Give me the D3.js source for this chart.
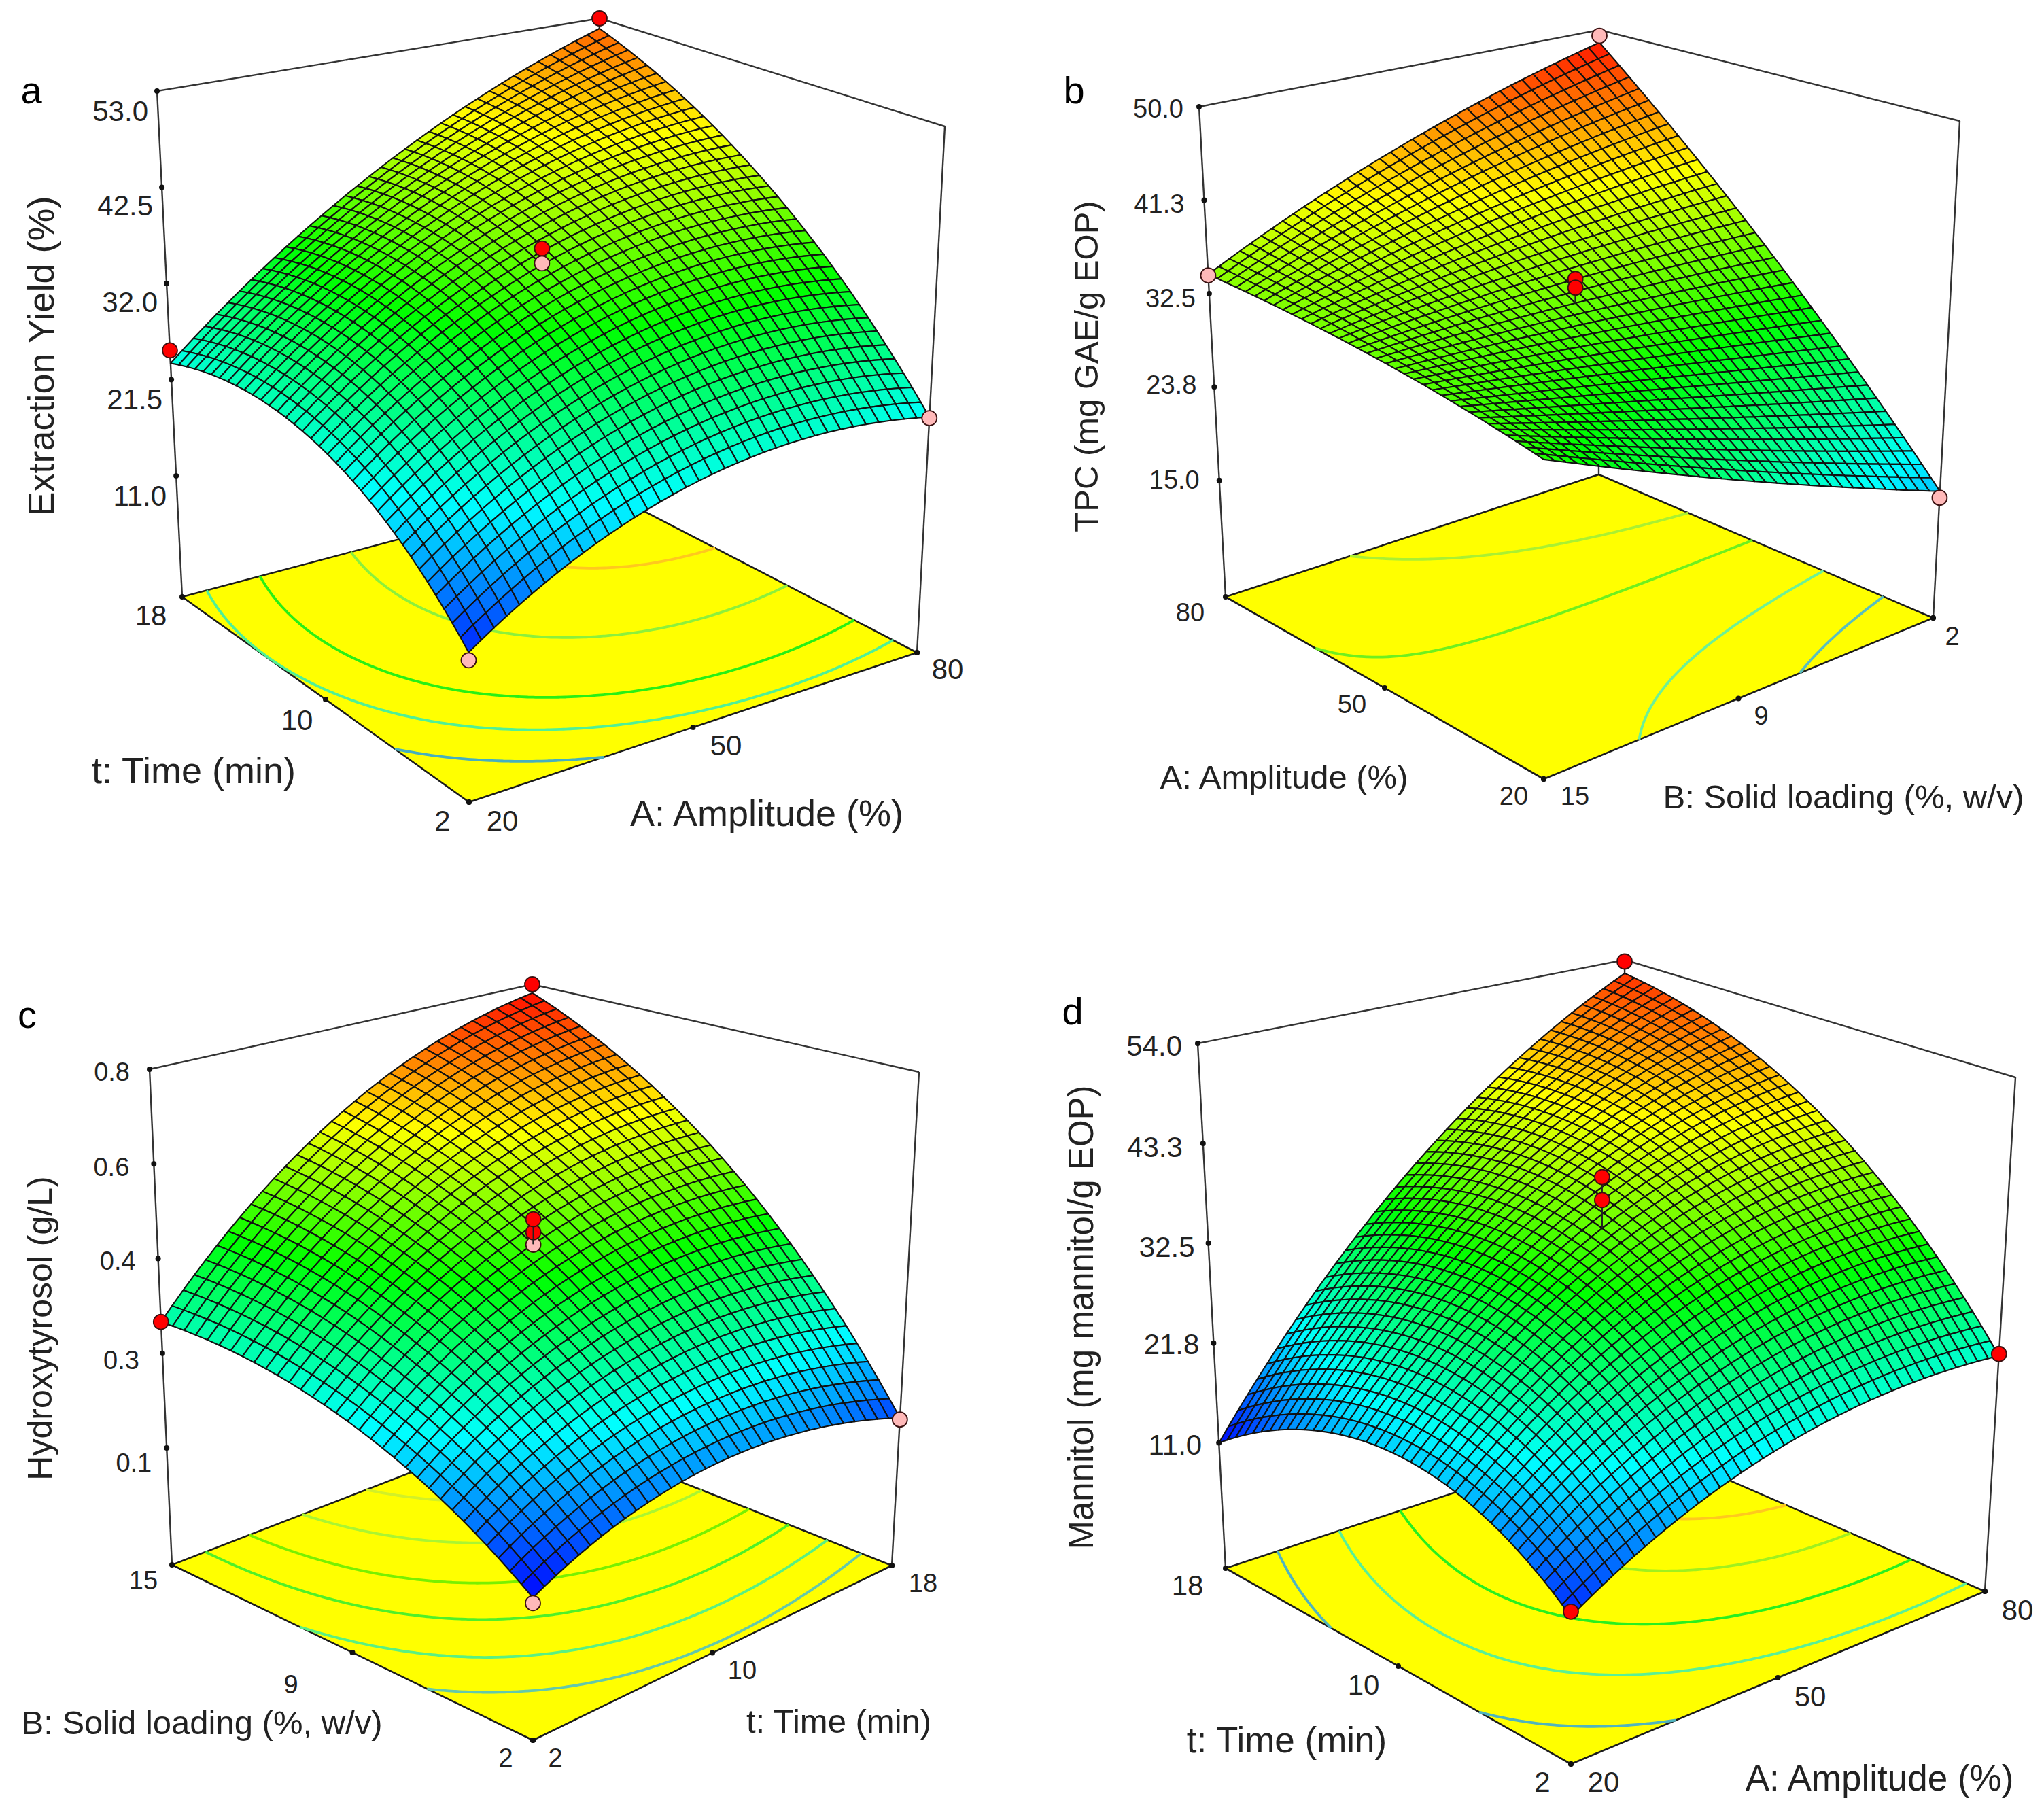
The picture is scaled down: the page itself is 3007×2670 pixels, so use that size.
<!DOCTYPE html>
<html><head><meta charset="utf-8">
<script src="https://cdn.jsdelivr.net/npm/d3@7"></script>
<style>html,body{margin:0;background:#fff}svg{display:block}text{font-family:"Liberation Sans",Arial,sans-serif;fill:#222}</style>
</head><body><svg id="c" width="3007" height="2670"></svg>
<script>
// ---------- values (rows: second factor, columns: first factor)
const yieldSurface=[[13,19.5,23.25,24.25,22.5],[20.3,27.57,31.98,33.55,32.27],[24.45,32.42,37.73,40.39,40.4],[25.46,34.04,40.48,44.78,46.92],[23.3,32.46,40.25,46.71,51.8]];
const tpcSurface=[[30.1,26.53,22.95,19.38,15.8],[31.6,29.88,28.05,26.09,24.03],[32.8,33.0,32.97,32.72,32.25],[33.7,35.91,37.77,39.29,40.48],[34.3,38.58,42.4,45.78,48.7]];
const hydroxySurface=[[.121,.188,.217,.207,.158],[.221,.316,.372,.391,.370],[.289,.411,.494,.539,.545],[.327,.474,.581,.652,.682],[.333,.503,.635,.728,.782]];
const mannitolSurface=[[12.3,18.12,21.9,23.67,23.4],[17.98,25.92,31.36,34.35,34.85],[19.65,29.55,36.83,41.48,43.5],[17.33,29.05,38.29,45.06,49.35],[11,24.39,35.75,45.09,52.4]];

const yieldLevels=[20.5,25.6,30.3,37.5,44], tpcLevels=[20.7,26.6,33.6,39.9], hydroxyLevels=[.235,.315,.40,.48,.565,.65], mannitolLevels=[18.2,26,33,39.5,45];

const yieldTicks=[53,42.5,32,21.5,11], yieldTickLabels=["53.0","42.5","32.0","21.5","11.0"];
const tpcTicks=[50,41.25,32.5,23.75,15], tpcTickLabels=["50.0","41.3","32.5","23.8","15.0"];
const hydroxyTicks=[.8,.625,.45,.275,.1], hydroxyTickLabels=["0.8","0.6","0.4","0.3","0.1"];
const mannitolTicks=[54,43.25,32.5,21.75,11], mannitolTickLabels=["54.0","43.3","32.5","21.8","11.0"];

const amplitudeTicks=[20,50,80], timeTicks=[2,10,18], solidTicks=[2,8.5,15];
const amplitudeLabels=["20","50","80"], timeLabels=["2","10","18"], solidLabels=["2","9","15"];

// design points: first factor, second factor, response, 1 = above surface (red) / 0 = below (pink)
const yieldPoints=[[20,18,24.7,1],[80,18,53,1],[80,2,22.4,0],[20,2,12.2,0],[50,10,39.5,1],[50,10,37.9,0]];
const tpcPoints=[[15,80,34.2,0],[2,80,49.4,0],[2,20,15.2,0],[8.5,50,35.2,1],[8.5,50,34.4,1]];
const hydroxyPoints=[[2,15,.333,1],[18,15,.8,1],[18,2,.155,0],[2,2,.112,0],[10,8.5,.493,0],[10,8.5,.516,1],[10,8.5,.54,1]];
const mannitolPoints=[[20,2,12.8,1],[80,2,23.6,1],[80,18,53.8,1],[50,10,42.4,1],[50,10,39.9,1]];

// ---------- layout
const panels=[
{letter:"a",lp:[46,132],lfs:56,surface:yieldSurface,levels:yieldLevels,zT:yieldTicks,zL:yieldTickLabels,pts:yieldPoints,
 lc:["#46afbe","#50f096","#28f014","#8cf03c","#ffc81e"],
 z:[-2.2,53],cd:[11.5,56],n:36,
 f:{F:[690,1180],R:[1349,960],L:[268,878],B:[878,716]},t:{F:[688,380],R:[1390,186],L:[231,134],B:[882,27]},
 uT:amplitudeTicks,uL:amplitudeLabels,vT:timeTicks,vL:timeLabels,
 uP:[[739,1207],[1068,1096],[1394,984]],vP:[[651,1207],[437,1059],[222,905]],
 tfs:42,zdx:[-13,-13,-13,-13,-14],zdy:[29,27,27,29,29],
 titles:[["Extraction Yield (%)",60,524,54,-90],["t: Time (min)",285,1133,54,0],["A: Amplitude (%)",1128,1196,54,0]]},
{letter:"b",lp:[1580,132],lfs:56,surface:tpcSurface,levels:tpcLevels,zT:tpcTicks,zL:tpcTickLabels,pts:tpcPoints,
 lc:["#5abebe","#6ef096","#6ef01e","#aaf032"],
 z:[4.1,50],cd:[8,49.5],n:36,
 f:{F:[2271,1146],R:[2844,909],L:[1803,878],B:[2352,698]},t:{F:[2271,316],R:[2883,178],L:[1764,157],B:[2353,44]},
 uT:[15,8.5,2],uL:["15","9","2"],vT:amplitudeTicks,vL:amplitudeLabels,
 uP:[[2317,1171],[2591,1053],[2872,936]],vP:[[2227,1171],[1989,1036],[1751,901]],
 tfs:38,zdx:[-23,-29,-20,-26,-29],zdy:[3,6,7,-3,-1],
 titles:[["TPC (mg GAE/g EOP)",1598,539,49,-90],["A: Amplitude (%)",1889,1143,49,0],["B: Solid loading (%, w/v)",2712,1172,49,0]]},
{letter:"c",lp:[40,1492],lfs:56,surface:hydroxySurface,levels:hydroxyLevels,zT:hydroxyTicks,zL:hydroxyTickLabels,pts:hydroxyPoints,
 lc:["#64c8aa","#5af082","#50f028","#78f000","#aaf532","#d2f028"],
 z:[-.116,.8],cd:[.12,.79],n:32,
 f:{F:[784,2560],R:[1312,2303],L:[253,2302],B:[788,2095]},t:{F:[784,1750],R:[1352,1577],L:[220,1573],B:[783,1448]},
 uT:timeTicks,uL:timeLabels,vT:solidTicks,vL:solidLabels,
 uP:[[817,2586],[1092,2457],[1358,2329]],vP:[[744,2586],[428,2478],[211,2325]],
 tfs:38,zdx:[-29,-36,-33,-34,-22],zdy:[4,5,3,10,22],
 titles:[["Hydroxytyrosol (g/L)",59,1954,50,-90],["t: Time (min)",1234,2532,49,0],["B: Solid loading (%, w/v)",297,2534,49,0]]},
{letter:"d",lp:[1578,1487],lfs:56,surface:mannitolSurface,levels:mannitolLevels,zT:mannitolTicks,zL:mannitolTickLabels,pts:mannitolPoints,
 lc:["#50b4be","#5af096","#28f01e","#a0f01e","#ffc81e"],
 z:[-2.5,54],cd:[11,54.5],n:40,
 f:{F:[2311,2595],R:[2920,2341],L:[1803,2307],B:[2393,2112]},t:{F:[2311,1767],R:[2965,1585],L:[1762,1535],B:[2390,1412]},
 uT:amplitudeTicks,uL:amplitudeLabels,vT:timeTicks,vL:timeLabels,
 uP:[[2359,2621],[2663,2495],[2968,2368]],vP:[[2269,2621],[2006,2478],[1747,2332]],
 tfs:42,zdx:[-23,-30,-20,-21,-25],zdy:[3,6,6,2,3],
 titles:[["Mannitol (mg mannitol/g EOP)",1590,1938,51,-90],["t: Time (min)",1893,2559,53,0],["A: Amplitude (%)",2765,2615,53,0]]}
];

const svg=d3.select("#c");
const rainbow=d3.scaleLinear().domain([0,.25,.5,.75,1]).range(["#0000ff","#00ffff","#00ff00","#ffff00","#ff0000"]).clamp(true);

function cr(p0,p1,p2,p3,t){return .5*((2*p1)+(-p0+p2)*t+(2*p0-5*p1+4*p2-p3)*t*t+(-p0+3*p1-3*p2+p3)*t*t*t);}
function along(a,s){ // spline between the estimated table values, s in 0..1
  const m=a.length-1,x=Math.min(s*m,m-1e-9),i=Math.floor(x),t=x-i;
  const g=k=>k<0?3*a[0]-3*a[1]+a[2]:k>m?3*a[m]-3*a[m-1]+a[m-2]:a[k];
  return cr(g(i-1),g(i),g(i+1),g(i+2),t);
}
function surfaceAt(tab,u,v){return along(tab.map(r=>along(r,u)),v);}

panels.forEach(p=>{
  const g=svg.append("g");
  const uS=d3.scaleLinear().domain([p.uT[0],p.uT[2]]).range([0,1]);
  const vS=d3.scaleLinear().domain([p.vT[0],p.vT[2]]).range([0,1]);
  const wS=d3.scaleLinear().domain(p.z).range([0,1]);
  const cS=d3.scaleLinear().domain(p.cd).range([0,1]);
  const bil=(c,u,v,k)=>(c.F[k]*(1-u)+c.R[k]*u)*(1-v)+(c.L[k]*(1-u)+c.B[k]*u)*v;
  const proj=(u,v,w)=>{const fx=bil(p.f,u,v,0),fy=bil(p.f,u,v,1),tx=bil(p.t,u,v,0),ty=bil(p.t,u,v,1);return [fx+(tx-fx)*w,fy+(ty-fy)*w];};
  const line=d3.line();

  // floor
  g.append("path").attr("d",line([p.f.F,p.f.R,p.f.B,p.f.L])+"Z").attr("fill","#ffff00").attr("stroke","#1a1a1a").attr("stroke-width",2.6).attr("stroke-linejoin","round");

  // contours on the floor
  const m=121,vals=new Array(m*m);
  for(let j=0;j<m;j++)for(let i=0;i<m;i++)vals[j*m+i]=surfaceAt(p.surface,i/(m-1),j/(m-1));
  const cont=d3.contours().size([m,m]).smooth(true).thresholds(p.levels)(vals);
  const floorLine=d3.line().defined(d=>d.ok).x(d=>d.x).y(d=>d.y);
  cont.forEach((c,ci)=>{
    const col=p.lc[ci];
    c.coordinates.forEach(poly=>poly.forEach(ring=>{
      const pts=ring.map(q=>{
        const ok=q[0]>.01&&q[0]<m-.01&&q[1]>.01&&q[1]<m-.01;
        const u=Math.max(0,Math.min(1,(q[0]-.5)/(m-1))),v=Math.max(0,Math.min(1,(q[1]-.5)/(m-1)));
        const a=proj(u,v,0);return {x:a[0],y:a[1],ok};
      });
      g.append("path").attr("d",floorLine(pts)).attr("fill","none").attr("stroke",col).attr("stroke-width",3.8);
    }));
  });

  // box lines
  const boxLine=(a,b)=>g.append("path").attr("d",line([a,b])).attr("stroke","#333").attr("stroke-width",2.4).attr("fill","none");
  boxLine(p.f.L,p.t.L);boxLine(p.f.R,p.t.R);boxLine(p.f.B,p.t.B);boxLine(p.t.L,p.t.B);boxLine(p.t.B,p.t.R);

  // surface mesh, painted from the far corner to the near corner
  const cells=[];
  for(let j=0;j<p.n;j++)for(let i=0;i<p.n;i++)cells.push([i,j]);
  cells.sort((a,b)=>(b[0]+b[1])-(a[0]+a[1]));
  const zAt=(i,j)=>surfaceAt(p.surface,i/p.n,j/p.n);
  const P=(i,j)=>proj(i/p.n,j/p.n,wS(zAt(i,j)));
  g.append("g").selectAll("path").data(cells).join("path")
    .attr("d",d=>line([P(d[0],d[1]),P(d[0]+1,d[1]),P(d[0]+1,d[1]+1),P(d[0],d[1]+1)])+"Z")
    .attr("fill",d=>rainbow(cS((zAt(d[0],d[1])+zAt(d[0]+1,d[1])+zAt(d[0]+1,d[1]+1)+zAt(d[0],d[1]+1))/4)))
    .attr("stroke","#111").attr("stroke-width",2.1).attr("stroke-linejoin","round");

  // design points
  p.pts.forEach(d=>{
    const u=uS(d[0]),v=vS(d[1]),a=proj(u,v,wS(d[2])),b=proj(u,v,wS(surfaceAt(p.surface,u,v)));
    g.append("path").attr("d",line([a,b])).attr("stroke","#222").attr("stroke-width",2);
    g.append("circle").attr("cx",a[0]).attr("cy",a[1]).attr("r",11).attr("fill",d[3]?"#ff0000":"#ffb9b9").attr("stroke","#3a1010").attr("stroke-width",1.8);
  });

  // ticks and labels
  const dot=q=>g.append("circle").attr("cx",q[0]).attr("cy",q[1]).attr("r",4).attr("fill","#111");
  const tl=(s,x,y,fs,anchor)=>g.append("text").attr("x",x).attr("y",y).attr("font-size",fs).attr("text-anchor",anchor||"middle").attr("dominant-baseline","central").text(s);
  p.zT.forEach((z,i)=>{
    const q=proj(0,1,wS(z));dot(q);
    tl(p.zL[i],q[0]+p.zdx[i],q[1]+p.zdy[i],p.tfs,"end");
  });
  p.uT.forEach((t,i)=>{dot(proj(uS(t),0,0));tl(p.uL[i],p.uP[i][0],p.uP[i][1],p.tfs);});
  p.vT.forEach((t,i)=>{dot(proj(0,vS(t),0));tl(p.vL[i],p.vP[i][0],p.vP[i][1],p.tfs);});
  dot(proj(1,0,0));
  p.titles.forEach(t=>{
    g.append("text").attr("transform",`translate(${t[1]},${t[2]}) rotate(${t[4]})`).attr("font-size",t[3]).attr("text-anchor","middle").attr("dominant-baseline","central").text(t[0]);
  });
  g.append("text").attr("x",p.lp[0]).attr("y",p.lp[1]).attr("font-size",p.lfs).attr("text-anchor","middle").attr("dominant-baseline","central").attr("style","fill:#000").text(p.letter);
});
</script></body></html>
